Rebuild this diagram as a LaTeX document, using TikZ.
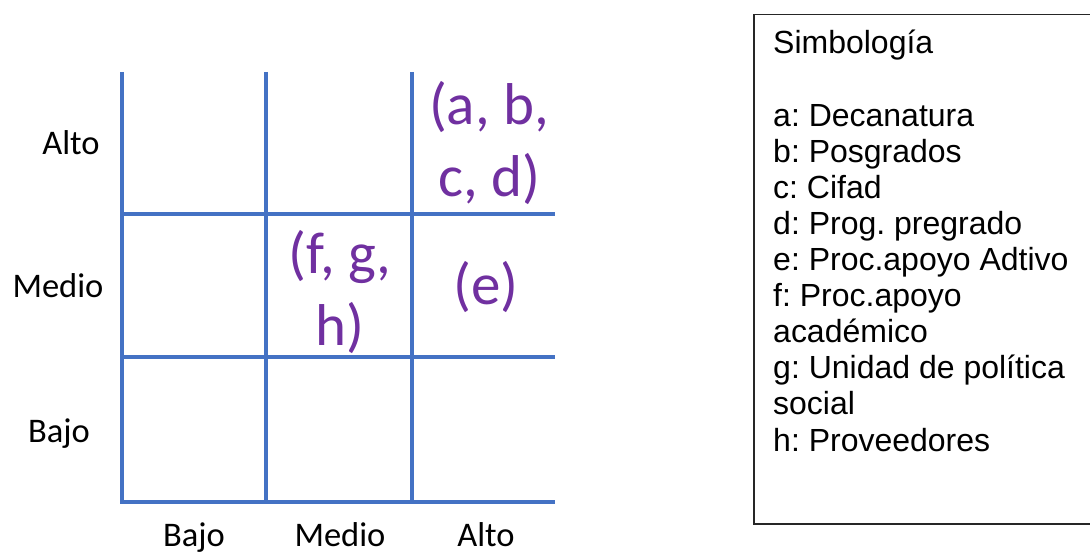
\documentclass[tikz,border=0pt]{standalone}
\usepackage{fontspec}
\newfontfamily\gridfont{Carlito}
\newfontfamily\legendfont{Liberation Sans}
\definecolor{gridblue}{RGB}{68,114,196}
\definecolor{itempurple}{RGB}{112,48,160}
\frenchspacing

\begin{document}
\begin{tikzpicture}[x=1pt, y=-1pt,
    axislabel/.style={anchor=base, font=\gridfont\fontsize{34.5}{40}\selectfont},
    cellitem/.style={anchor=base, align=center, text=itempurple, inner sep=0pt, font=\gridfont\fontsize{59}{72}\selectfont}]
    \useasboundingbox (0,0) rectangle (1090,553);

    % matrix lines
    \begin{scope}[gridblue, line width=4.5pt]
        \foreach \x in {122, 266, 412}
            \draw (\x, 72) -- (\x, 502);
        \foreach \y in {214, 357, 502}
            \draw (120, \y) -- (555, \y);
    \end{scope}

    \node [axislabel] (rowhigh) at (71, 155) {Alto};
    \node [axislabel] (rowmid) at (58, 298) {Medio};
    \node [axislabel] (rowlow) at (59, 442) {Bajo};

    \node [axislabel] (collow) at (194, 546) {Bajo};
    \node [axislabel] (colmid) at (340, 546) {Medio};
    \node [axislabel] (colhigh) at (486, 546) {Alto};

    % base of a two-line node is its last line
    \node [cellitem] (abcd) at (489, 197) {(a, b,\\c, d)};
    \node [cellitem] (fgh) at (340, 345) {(f, g,\\h)};
    \node [cellitem] (e) at (486, 305) {(e)};

    % legend
    \node [draw=black!85, line width=1.5pt, anchor=north west, minimum width=345, minimum height=509] (legendbox) at (753, 14) {};
    \node [anchor=base west, align=left, inner sep=0pt, font=\legendfont\fontsize{32}{36.1}\selectfont] (legend) at (773, 451)
        {Simbología\\[36.1pt]
         a: Decanatura\\
         b: Posgrados\\
         c: Cifad\\
         d: Prog. pregrado\\
         e: Proc.apoyo Adtivo\\
         f: Proc.apoyo\\
         académico\\
         g: Unidad de política\\
         social\\
         h: Proveedores};
\end{tikzpicture}
\end{document}
